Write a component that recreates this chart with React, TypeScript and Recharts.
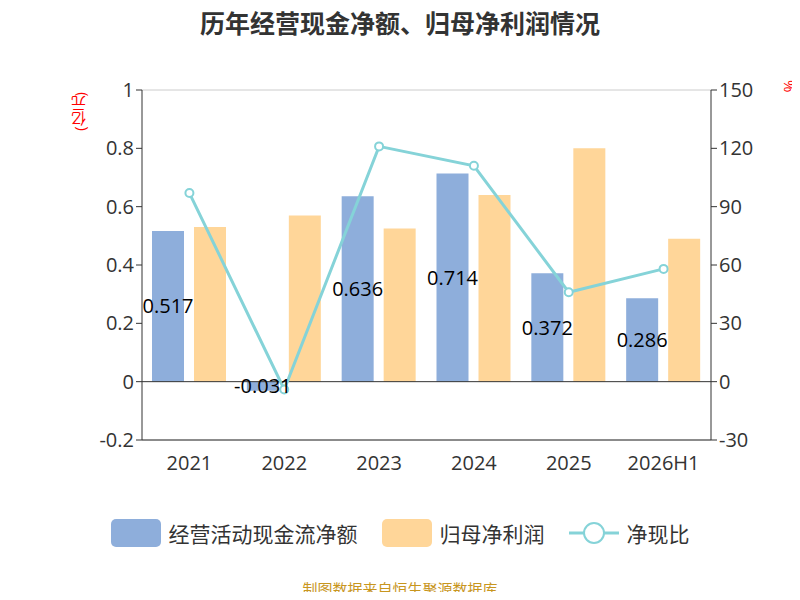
import { ComposedChart, Bar, Line, XAxis, YAxis, CartesianGrid, LabelList, ReferenceLine } from 'recharts'

const years = ['2021', '2022', '2023', '2024', '2025', '2026H1']
const cashFlow = [0.517, -0.031, 0.636, 0.714, 0.372, 0.286]
const netProfit = [0.53, 0.57, 0.525, 0.64, 0.8, 0.49]
const ratio = [97, -4, 121, 111, 46, 58]

const data = years.map((y, i) => ({ year: y, cash: cashFlow[i], profit: netProfit[i], ratio: ratio[i] }))

const font = '"Open Sans", "Noto Sans CJK SC", sans-serif'
const tick = { fontSize: 20, fill: '#333', fontFamily: font }

export default function App() {
  return (
    <div style={{ width: 800, height: 600, position: 'relative', margin: -8, background: '#fff', fontFamily: font }}>
      <div style={{ position: 'absolute', top: 4, width: 800, textAlign: 'center', fontSize: 25, fontWeight: 'bold', color: '#333' }}>
        历年经营现金净额、归母净利润情况
      </div>
      <div style={{ position: 'absolute', left: 68, top: 92, color: 'red', fontSize: 15, writingMode: 'vertical-rl', transform: 'rotate(180deg)' }}>(亿元)</div>
      <div style={{ position: 'absolute', left: 780, top: 80, color: 'red', fontSize: 15, writingMode: 'vertical-rl' }}>%</div>
      <ComposedChart width={800} height={480} data={data} margin={{ top: 90, right: 29, left: 82, bottom: 0 }} barGap={10} barCategoryGap={10}>
        <CartesianGrid vertical={false} stroke="#ccc" />
        <XAxis dataKey="year" tick={tick} tickLine={false} axisLine={{ stroke: '#333' }} height={40} tickMargin={10} />
        <YAxis yAxisId="l" domain={[-0.2, 1]} ticks={[-0.2, 0, 0.2, 0.4, 0.6, 0.8, 1]} tick={tick} axisLine={{ stroke: '#333' }} tickLine={{ stroke: '#333' }} width={60} />
        <YAxis yAxisId="r" orientation="right" domain={[-30, 150]} ticks={[-30, 0, 30, 60, 90, 120, 150]} tick={tick} axisLine={{ stroke: '#333' }} tickLine={{ stroke: '#333' }} width={60} />
        <ReferenceLine yAxisId="l" y={0} stroke="#333" />
        <Bar yAxisId="l" dataKey="cash" fill="#8eaedb" isAnimationActive={false}>
          <LabelList dataKey="cash" position="center" fill="#000" fontSize={20} fontFamily={font} />
        </Bar>
        <Bar yAxisId="l" dataKey="profit" fill="#ffd699" isAnimationActive={false} />
        <Line yAxisId="r" dataKey="ratio" stroke="#85d3d8" strokeWidth={3} dot={{ r: 4, fill: '#fff', strokeWidth: 2 }} isAnimationActive={false} />
      </ComposedChart>
      <div style={{ position: 'absolute', top: 518, width: 800, display: 'flex', justifyContent: 'center', alignItems: 'center', gap: 24, fontSize: 21, color: '#333' }}>
        <span style={{ display: 'flex', alignItems: 'center', gap: 8 }}>
          <span style={{ width: 50, height: 28, background: '#8eaedb', borderRadius: 5, display: 'inline-block' }} />经营活动现金流净额
        </span>
        <span style={{ display: 'flex', alignItems: 'center', gap: 8 }}>
          <span style={{ width: 50, height: 28, background: '#ffd699', borderRadius: 5, display: 'inline-block' }} />归母净利润
        </span>
        <span style={{ display: 'flex', alignItems: 'center', gap: 8 }}>
          <svg width={50} height={28}>
            <line x1={0} y1={14} x2={50} y2={14} stroke="#85d3d8" strokeWidth={3} />
            <circle cx={25} cy={14} r={10} fill="#fff" stroke="#85d3d8" strokeWidth={2} />
          </svg>净现比
        </span>
      </div>
      <div style={{ position: 'absolute', top: 578, width: 800, textAlign: 'center', fontSize: 15, color: '#c8961e' }}>制图数据来自恒生聚源数据库</div>
    </div>
  )
}
